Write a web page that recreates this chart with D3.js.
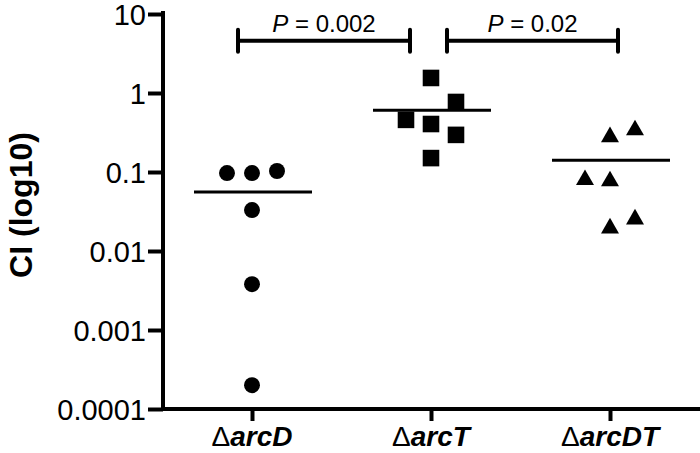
<!DOCTYPE html>
<html>
<head>
<meta charset="utf-8">
<script src="https://cdn.jsdelivr.net/npm/d3@7"></script>
<style>
  body { margin: 0; background: #fff; }
  svg { display: block; font-family: "Liberation Sans", Arial, sans-serif; }
</style>
</head>
<body>
<div class="chart"></div>
<script>
/* data */
const strains = ["arcD", "arcT", "arcDT"];
const shapes = ["circle", "square", "triangle"];
const yTicks = [10, 1, 0.1, 0.01, 0.001, 0.0001];
const yTickLabels = ["10", "1", "0.1", "0.01", "0.001", "0.0001"];

// each point: [x jitter slot (-1, 0, 1), CI value]
const arcDPoints = [[-1, 0.097], [0, 0.097], [1, 0.103], [0, 0.033], [0, 0.0038], [0, 0.0002]];
const arcTPoints = [[0, 1.55], [1, 0.77], [-1, 0.457], [0, 0.405], [1, 0.295], [0, 0.15]];
const arcDTPoints = [[0, 0.286], [1, 0.35], [-1, 0.082], [0, 0.079], [1, 0.026], [0, 0.02]];
const groups = [arcDPoints, arcTPoints, arcDTPoints];

const comparisons = [
    { from: 0, to: 1, label: "0.002" },
    { from: 1, to: 2, label: "0.02" }
];

const width = 700, height = 453;
const margin = { left: 163, right: 0, top: 14, bottom: 44 };

const svg = d3.select(".chart").append("svg")
    .attr("width", width)
    .attr("height", height);

const y = d3.scaleLog()
    .domain([0.0001, 10])
    .range([height - margin.bottom, margin.top]);

const x = d3.scalePoint()
    .domain(strains)
    .range([252, 610]);

const jitter = 25;   // horizontal spacing of points in a group

// y axis
const yAxis = svg.append("g")
    .attr("transform", `translate(${margin.left},0)`)
    .call(d3.axisLeft(y).tickValues(yTicks)
        .tickFormat((d, i) => yTickLabels[i])
        .tickSize(15).tickPadding(2));
yAxis.select(".domain").attr("stroke-width", 4).attr("d", `M0,${margin.top - 3}V${height - margin.bottom + 2}`);
yAxis.selectAll(".tick line").attr("stroke-width", 4);
yAxis.selectAll(".tick text").attr("font-size", 29).attr("dy", "0.36em").attr("fill", "#000");

// x axis
const xAxis = svg.append("g")
    .attr("transform", `translate(0,${height - margin.bottom})`)
    .call(d3.axisBottom(x).tickSize(12).tickFormat(""));
xAxis.select(".domain").attr("stroke-width", 4).attr("d", `M${margin.left - 2},0H${width}`);
xAxis.selectAll(".tick line").attr("stroke-width", 4);

const xLabels = svg.append("g").selectAll("text")
    .data(strains)
    .join("text")
    .attr("x", d => x(d))
    .attr("y", 446)
    .attr("text-anchor", "middle")
    .attr("font-size", 28);
xLabels.append("tspan").text("\u0394");
xLabels.append("tspan")
    .attr("font-weight", "bold")
    .attr("font-style", "italic")
    .text(d => d);

// y title
svg.append("text")
    .attr("transform", "translate(32,205) rotate(-90)")
    .attr("text-anchor", "middle")
    .attr("font-size", 32)
    .attr("font-weight", "bold")
    .text("CI (log10)");

// points
const symbolType = { circle: d3.symbolCircle, square: d3.symbolSquare, triangle: d3.symbolTriangle };
const symbolSize = { circle: 200, square: 275, triangle: 140 };

groups.forEach((pts, gi) => {
    const name = strains[gi];
    const sym = d3.symbol().type(symbolType[shapes[gi]]).size(symbolSize[shapes[gi]]);
    svg.append("g").selectAll("path")
        .data(pts)
        .join("path")
        .attr("d", sym)
        .attr("fill", "#000")
        .attr("transform", d => `translate(${x(name) + d[0] * jitter},${y(d[1]) + (shapes[gi] === "triangle" ? 1 : 0)})`);

    // arithmetic mean line
    const mean = d3.mean(pts, d => d[1]);
    svg.append("line")
        .attr("x1", x(name) - 58)
        .attr("x2", x(name) + 60)
        .attr("y1", y(mean))
        .attr("y2", y(mean))
        .attr("stroke", "#000")
        .attr("stroke-width", 3);
});

// significance brackets
const bracketY = y(4.6);
const brackets = svg.append("g").selectAll("g")
    .data(comparisons)
    .join("g");
const x1 = d => d.from === 0 ? x(strains[d.from]) - 14 : x(strains[d.from]) + 16;
const x2 = d => d.from === 0 ? x(strains[d.to]) - 21 : x(strains[d.to]) + 8;
brackets.append("path")
    .attr("d", d => `M${x1(d)},${bracketY - 11}V${bracketY + 11}M${x1(d)},${bracketY}H${x2(d)}M${x2(d)},${bracketY - 11}V${bracketY + 11}`)
    .attr("fill", "none")
    .attr("stroke", "#000")
    .attr("stroke-width", 4)
    .attr("stroke-linecap", "round");
const pText = brackets.append("text")
    .attr("x", d => (x1(d) + x2(d)) / 2)
    .attr("y", bracketY - 9)
    .attr("text-anchor", "middle")
    .attr("font-size", 24);
pText.append("tspan").attr("font-style", "italic").text("P");
pText.append("tspan").text(d => " = " + d.label);
</script>
</body>
</html>
